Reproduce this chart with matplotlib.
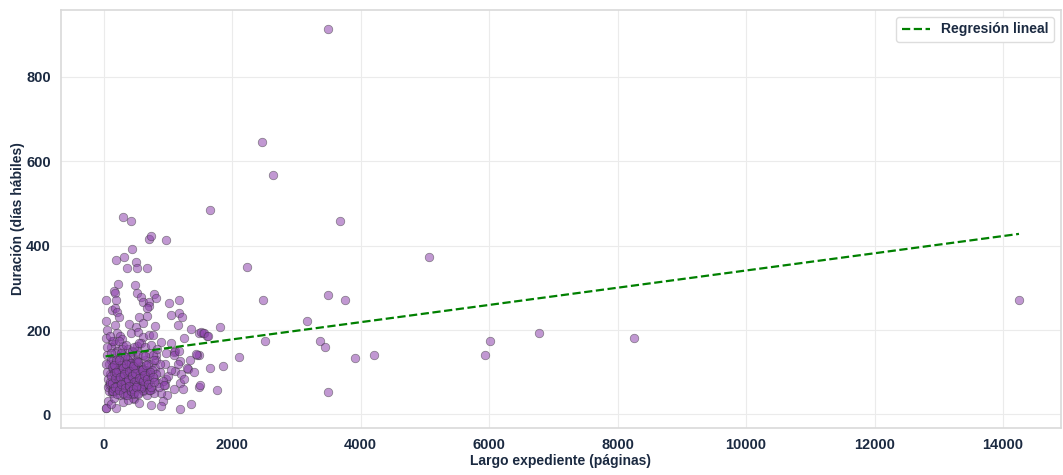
import matplotlib
matplotlib.use("Agg")
import matplotlib.pyplot as plt
import numpy as np

# paginas (largo expediente) y duracion (dias habiles)
paginas = [
    # puntos aislados
    3500, 2465, 2636, 1659, 3674, 5070, 2233, 2481, 3488, 3752, 1814, 3163,
    1488, 1550, 1612, 2512, 3364, 3442, 1488, 2109, 3907, 4202, 5938, 6016,
    1659, 1860, 1488, 1767, 3488, 6775, 8248, 14248,
    # zona superior del cumulo
    300, 424, 703, 744, 972, 434, 186, 310, 501, 366, 512, 682,
    217, 490, 155, 170, 512, 784, 817, 41, 196, 584, 620, 702, 713, 672,
    1023, 1178, 1168, 1054, 1218, 124, 175, 206, 237, 41, 175, 392, 558,
    505, 620, 672, 795, 1157, 1354, 1508, 1559, 1622, 206, 248, 279, 124,
    175, 424, 538, 620, 702, 764, 589, 516, 899, 1116, 1095, 1188, 1446,
    816, 300, 372, 448, 527,
    # zona inferior
    1311, 1116, 1188, 1240, 1364, 1188, 981, 919, 733, 899, 474, 41, 73,
    196, 1435, 972, 961,
    # cumulo denso
    50, 80, 100, 120, 150, 160, 180, 200, 210, 230, 250, 260, 280, 300,
    320, 340, 360, 380, 400, 420, 440, 460, 480, 500, 520, 540, 560, 580,
    600, 620, 640, 660, 680, 700, 720, 740, 760, 780, 800, 820, 850, 880,
    900, 950, 1000,
    60, 90, 110, 130, 140, 170, 190, 220, 240, 270, 290, 310, 330, 350,
    370, 390, 410, 430, 450, 470, 490, 510, 530, 550, 570, 590, 610, 630,
    650, 670, 690, 710, 730, 750, 770, 790, 810, 830, 870, 920, 970, 1050,
    1100, 1150, 1200, 1250,
    40, 120, 160, 250, 300, 380, 550,
    30, 45, 55, 70, 85, 95, 35, 65,
    1050, 1100, 1180, 1250, 1300, 1350, 1400, 1500,
    140, 190, 230, 270, 330, 360, 420, 470, 520, 600, 650, 700, 140, 200,
    260, 320, 380, 450, 510, 560, 610, 680, 100, 150, 210, 280, 340, 400,
    460, 530, 590, 660, 720, 780, 130, 180, 240, 300, 360, 430, 490, 570,
    110, 170, 230, 290, 350, 410, 480, 640, 860, 940,
    # mas puntos en el nucleo
    105, 125, 145, 165, 185, 205, 225, 245, 265, 285, 305, 325, 345, 365,
    385, 405, 425, 445, 465, 485, 505, 525, 545, 565, 585, 605, 625, 645,
    115, 135, 155, 175, 195, 215, 235, 255, 275, 295, 315, 335, 355, 375,
    395, 415, 435, 455, 475, 495, 515, 535, 555, 575, 595, 615, 635, 655,
    675, 695, 715, 740, 765, 790,
    150, 180, 210, 240, 270, 300, 330, 360, 390, 420, 450, 480, 510, 540,
]
duracion = [
    914, 646, 566, 485, 459, 372, 350, 272, 282, 272, 208, 222,
    194, 194, 187, 173, 173, 159, 142, 135, 133, 140, 140, 175,
    109, 114, 66, 59, 54, 192, 182, 270,
    468, 458, 416, 422, 413, 391, 367, 372, 360, 348, 347, 346,
    308, 307, 293, 288, 288, 286, 275, 271, 272, 278, 267, 266, 258, 253,
    264, 271, 241, 235, 232, 248, 252, 242, 232, 221, 212, 214, 231,
    206, 217, 234, 209, 211, 203, 195, 192, 187, 193, 185, 178, 174,
    166, 192, 195, 184, 189, 189, 170, 163, 172, 151, 147, 127, 141,
    141, 162, 154, 149, 151,
    107, 103, 75, 61, 24, 13, 47, 32, 23, 20, 37, 15, 32,
    15, 143, 83, 69,
    140, 120, 95, 160, 130, 75, 110, 90, 150, 60, 125, 100, 80, 140,
    115, 70, 95, 130, 55, 105, 150, 85, 120, 65, 100, 140, 75, 115,
    90, 55, 130, 105, 70, 145, 95, 120, 60, 85, 110, 130, 75, 100,
    50, 120, 90,
    100, 70, 130, 50, 175, 145, 85, 115, 175, 65, 155, 90, 45, 165,
    110, 75, 135, 95, 40, 160, 80, 125, 50, 170, 100, 65, 140, 85,
    160, 45, 120, 80, 165, 105, 140, 50, 95, 155, 120, 80, 145, 105,
    60, 120, 95, 85,
    15, 25, 40, 45, 30, 35, 28,
    180, 160, 200, 85, 55, 185, 120, 65,
    170, 140, 150, 180, 110, 130, 100, 70,
    105, 125, 88, 145, 100, 82, 118, 68, 92, 108, 138, 58, 62, 98,
    135, 88, 52, 112, 128, 78, 58, 98, 72, 112, 92, 72, 80, 118,
    48, 102, 68, 88, 58, 128, 55, 110, 78, 95, 132, 60, 102, 85,
    145, 58, 78, 102, 122, 62, 88, 95, 65, 70,
    78, 112, 62, 98, 128, 72, 105, 82, 118, 66, 92, 136, 76, 102,
    86, 58, 122, 94, 70, 110, 80, 126, 64, 96, 84, 108, 72, 90,
    92, 74, 118, 86, 100, 68, 130, 88, 60, 110, 96, 76, 120, 82,
    104, 66, 90, 114, 78, 98, 70, 124, 86, 62, 106, 80, 94, 116,
    84, 72, 100, 64, 88, 76,
    55, 65, 48, 58, 72, 50, 62, 45, 68, 56, 60, 52, 66, 48,
]

# coeficientes de la regresion lineal
reg_intercepto = 137
reg_pendiente = 0.0204

text_color = "#1b2a41"

fig, ax = plt.subplots(figsize=(10.63, 4.75), dpi=100)
fig.subplots_adjust(left=0.057, right=0.998, top=0.979, bottom=0.099)

ax.scatter(paginas, duracion, s=38, color="#8e44ad", alpha=0.55,
           edgecolor="#333333", linewidth=0.5, zorder=3)

x_line = np.array([min(paginas), max(paginas)])
ax.plot(x_line, reg_intercepto + reg_pendiente * x_line, color="#008000",
        linestyle="--", linewidth=1.6, label="Regresión lineal", zorder=4)

ax.set_xlim(-670, 14900)
ax.set_ylim(-32, 958)
ax.set_xticks(range(0, 14001, 2000))
ax.set_yticks(range(0, 801, 200))

ax.grid(True, color="#ebebeb", linewidth=0.8, zorder=0)
for s in ax.spines.values():
    s.set_color("#d9d9d9")
    s.set_linewidth(1.2)
ax.tick_params(length=0, labelsize=10.5, labelcolor=text_color, pad=7)
for lbl in ax.get_xticklabels() + ax.get_yticklabels():
    lbl.set_fontweight("bold")
    lbl.set_family("Liberation Sans")

ax.set_xlabel("Largo expediente (páginas)", fontsize=10, fontweight="bold",
              color=text_color, family="Liberation Sans", labelpad=2)
ax.set_ylabel("Duración (días hábiles)", fontsize=10, fontweight="bold",
              color=text_color, family="Liberation Sans", labelpad=1)

leg = ax.legend(loc="upper right", prop={"family": "Liberation Sans",
                "weight": "bold", "size": 10}, framealpha=1,
                edgecolor="#dddddd", borderaxespad=0.5)
for t in leg.get_texts():
    t.set_color(text_color)

fig.savefig("out.png", dpi=100)
